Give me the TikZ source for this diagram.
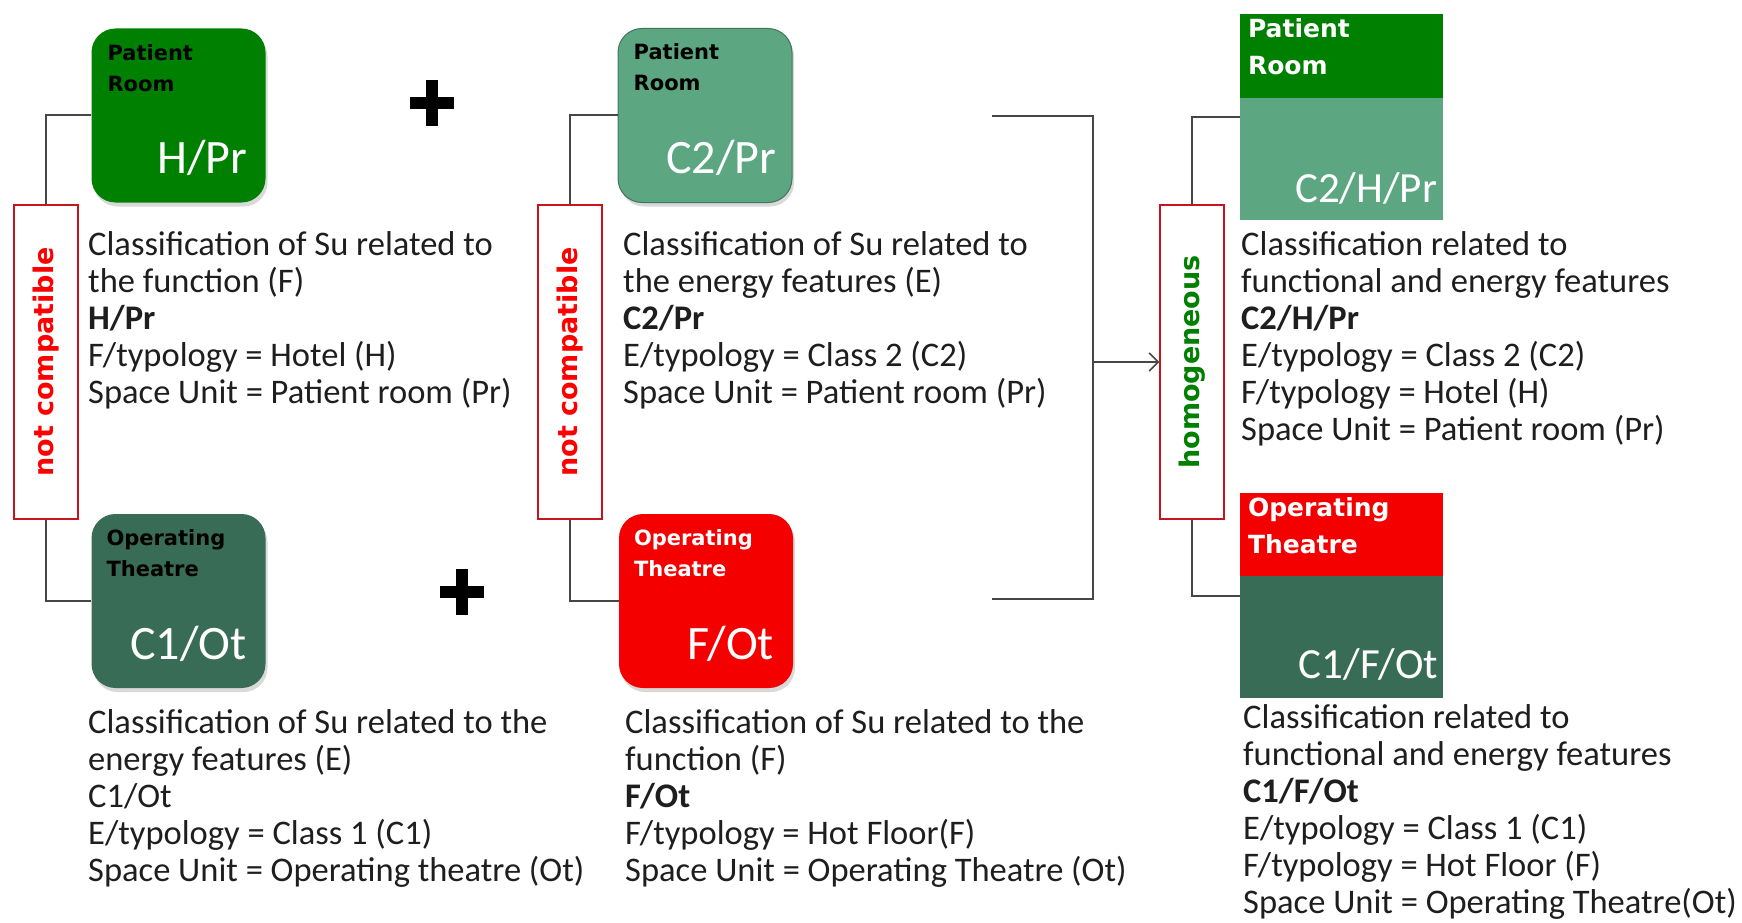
\documentclass[tikz,border=0pt]{standalone}
\usepackage{fontspec}
\setmainfont{Carlito}
\newfontfamily\lblfont{DejaVu Sans}
\usetikzlibrary{arrows.meta,shadows,calc}
\definecolor{gA}{RGB}{0,128,0}
\definecolor{gB}{RGB}{92,166,130}
\definecolor{gC}{RGB}{56,108,86}
\definecolor{rA}{RGB}{245,0,0}
\definecolor{lineg}{RGB}{70,70,70}
\definecolor{boxred}{RGB}{200,20,30}
\definecolor{txtc}{RGB}{30,30,30}
\begin{document}
\begin{tikzpicture}[x=1pt,y=-1pt,
  rbox/.style={rounded corners=24pt, minimum width=174pt, minimum height=174pt, inner sep=0pt,
    drop shadow={shadow xshift=2pt,shadow yshift=-4pt,opacity=0.3}},
  smalllbl/.style={anchor=north west, inner sep=0pt, align=left,
    font=\lblfont\bfseries\fontsize{21}{31}\selectfont},
  rlbl/.style={anchor=north west, inner sep=0pt, align=left, text=white,
    font=\lblfont\bfseries\fontsize{25}{37}\selectfont},
  biglbl/.style={anchor=base east, inner sep=0pt, text=white, font=\fontsize{48}{56}\selectfont},
  rbiglbl/.style={anchor=base east, inner sep=0pt, text=white, font=\fontsize{43}{50}\selectfont},
  txtblk/.style={anchor=north west, inner sep=0pt, align=left, text=txtc,
    font=\fontsize{34.5}{37}\selectfont},
  redframe/.style={draw=boxred, line width=1.5pt, fill=white, minimum width=64pt, minimum height=314pt, inner sep=0pt},
  vlbl/.style={rotate=90, inner sep=0pt, font=\lblfont\bfseries\fontsize{27}{32}\selectfont},
  conn/.style={draw=lineg, line width=2pt},
  plusbar/.style={line width=12pt, black},
  band/.style={minimum width=203pt, inner sep=0pt, anchor=north west},
  bodyr/.style={minimum width=203pt, minimum height=122pt, inner sep=0pt, anchor=south west}
]
\path[use as bounding box] (0,0) rectangle (1742,923);

% left rounded boxes
\node[rbox, fill=gA] (hpr) at (178.5,115.5) {};
\node[smalllbl, text=black] (hprl) at ($(hpr.north west)+(16,10)$) {\strut Patient\\Room};
\node[biglbl] (hprb) at ($(hpr.south east)+(-18,-29)$) {H/Pr};

\node[rbox, fill=gB, draw=gB!70!black, line width=1pt] (c2pr) at (705,115.5) {};
\node[smalllbl, text=black] (c2prl) at ($(c2pr.north west)+(16,10)$) {\strut Patient\\Room};
\node[biglbl] (c2prb) at ($(c2pr.south east)+(-16,-30)$) {C2/Pr};

\node[rbox, fill=gC] (c1ot) at (178.5,601) {};
\node[smalllbl, text=black] (c1otl) at ($(c1ot.north west)+(15,10)$) {\strut Operating\\Theatre};
\node[biglbl] (c1otb) at ($(c1ot.south east)+(-19,-29)$) {C1/Ot};

\node[rbox, fill=rA] (fot) at (706,601) {};
\node[smalllbl, text=white] (fotl) at ($(fot.north west)+(15,10)$) {\strut Operating\\Theatre};
\node[biglbl] (fotb) at ($(fot.south east)+(-19,-29)$) {F/Ot};

% right combined boxes
\node[minimum width=203pt, minimum height=206pt, inner sep=0pt] (rtop) at (1341.5,117) {};
\node[band, fill=gA, minimum height=84pt] (rtopband) at (rtop.north west) {};
\node[bodyr, fill=gB] (rtopbody) at (rtop.south west) {};
\node[rlbl] (rtopl) at ($(rtop.north west)+(8,-2)$) {\strut Patient\\Room};
\node[rbiglbl] (rtopb) at ($(rtop.south east)+(-6,-18)$) {C2/H/Pr};

\node[minimum width=203pt, minimum height=205pt, inner sep=0pt] (rbot) at (1341.5,595.5) {};
\node[band, fill=rA, minimum height=83pt] (rbotband) at (rbot.north west) {};
\node[bodyr, fill=gC] (rbotbody) at (rbot.south west) {};
\node[rlbl] (rbotl) at ($(rbot.north west)+(8,-2)$) {\strut Operating\\Theatre};
\node[rbiglbl] (rbotb) at ($(rbot.south east)+(-5,-20)$) {C1/F/Ot};

% vertical red frames
\node[redframe] (nc1) at (46,362) {};
\node[vlbl, text=red] (nc1t) at (nc1.center) {not compatible};
\node[redframe] (nc2) at (570,362) {};
\node[vlbl, text=red] (nc2t) at (nc2.center) {not compatible};
\node[redframe] (hom) at (1192,362) {};
\node[vlbl, text=gA] (homt) at (hom.center) {homogeneous};

% brackets
\draw[conn] (hpr.west) -| (nc1.north);
\draw[conn] (nc1.south) |- (c1ot.west);
\draw[conn] (c2pr.west) -| (nc2.north);
\draw[conn] (nc2.south) |- (fot.west);
\draw[conn] (rtop.west) -| (hom.north);
\draw[conn] (hom.south) |- (rbot.west);

\coordinate (bt) at (992,116);
\coordinate (bb) at (992,599);
\coordinate (bj) at (1093,362);
\draw[conn] (bt) -| (bj) |- (bb);
\draw[conn, -{Straight Barb[length=9pt,width=18pt,line width=1.5pt]}] (bj) -- (hom.west);

% plus signs
\coordinate (p1) at (432,103);
\coordinate (p2) at (462,592);
\draw[plusbar] ($(p1)+(-22,0)$) -- ($(p1)+(22,0)$);
\draw[plusbar] ($(p1)+(0,-23)$) -- ($(p1)+(0,23)$);
\draw[plusbar] ($(p2)+(-22,0)$) -- ($(p2)+(22,0)$);
\draw[plusbar] ($(p2)+(0,-23)$) -- ($(p2)+(0,23)$);

% text blocks
\node[txtblk] (t1) at (88,229) {\strut Classification of Su related to\\the function (F)\\\textbf{H/Pr}\\F/typology = Hotel (H)\\Space Unit = Patient room (Pr)};
\node[txtblk] (t2) at (623,229) {\strut Classification of Su related to\\the energy features (E)\\\textbf{C2/Pr}\\E/typology = Class 2 (C2)\\Space Unit = Patient room (Pr)};
\node[txtblk] (t3) at (1241,229) {\strut Classification related to\\functional and energy features\\\textbf{C2/H/Pr}\\E/typology = Class 2 (C2)\\F/typology = Hotel (H)\\Space Unit = Patient room (Pr)};
\node[txtblk] (t4) at (88,707) {\strut Classification of Su related to the\\energy features (E)\\C1/Ot\\E/typology = Class 1 (C1)\\Space Unit = Operating theatre (Ot)};
\node[txtblk] (t5) at (625,707) {\strut Classification of Su related to the\\function (F)\\\textbf{F/Ot}\\F/typology = Hot Floor(F)\\Space Unit = Operating Theatre (Ot)};
\node[txtblk] (t6) at (1243,702) {\strut Classification related to\\functional and energy features\\\textbf{C1/F/Ot}\\E/typology = Class 1 (C1)\\F/typology = Hot Floor (F)\\Space Unit = Operating Theatre(Ot)};
\end{tikzpicture}
\end{document}
